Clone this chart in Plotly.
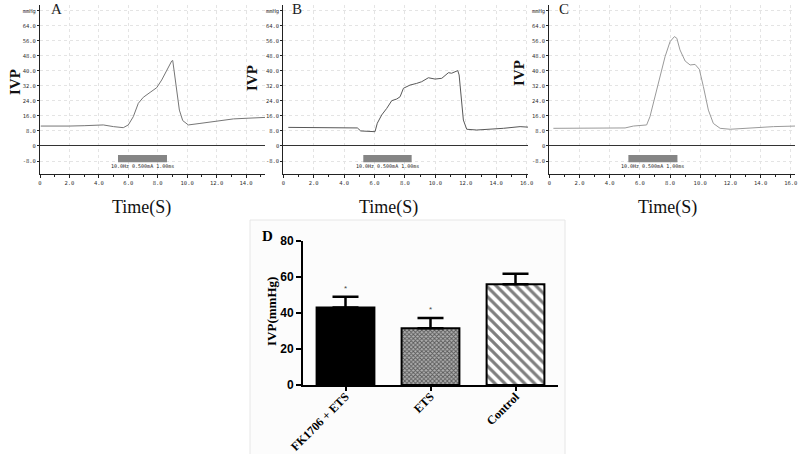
import plotly.graph_objects as go

# ---------- data: recorded pressure traces (time s, pressure mmHg) ----------
tA = [0.05, 1.0, 2.0, 3.0, 4.3, 5.0, 5.66, 6.0, 6.34, 6.68, 7.02, 7.48, 7.93, 8.27, 8.61, 8.95, 9.02,
      9.24, 9.47, 9.7, 10.08, 10.87, 12.0, 13.14, 14.2, 15.29]
vA = [10.6, 10.5, 10.6, 10.8, 11.2, 10.3, 9.75, 11.2, 15.6, 22.7, 25.9, 28.5, 31.0, 35.1, 40.4, 45.2, 45.5,
      33.3, 19.1, 13.5, 11.2, 12.0, 13.3, 14.4, 14.8, 15.2]

tB = [0.33, 2.0, 3.5, 4.87, 5.09, 6.03, 6.18, 6.47, 6.8, 7.13, 7.46, 7.68, 7.9, 8.33, 8.77, 9.1, 9.54,
      9.98, 10.42, 10.86, 11.07, 11.29, 11.47, 11.56, 11.69, 11.84, 12.06, 12.72, 14.47, 15.57, 16.34]
vB = [9.9, 9.8, 9.75, 9.6, 8.0, 7.6, 12.1, 16.5, 20.0, 24.1, 25.0, 26.2, 30.7, 32.4, 33.3, 34.2, 36.3,
      35.6, 36.0, 39.0, 38.7, 39.5, 40.1, 37.8, 26.2, 13.8, 8.9, 8.5, 9.4, 10.3, 9.9]

tC = [0.27, 2.7, 5.02, 5.57, 6.45, 6.67, 7.0, 7.33, 7.67, 8.0, 8.29, 8.45, 8.66, 9.0, 9.33, 9.66, 9.94,
      10.21, 10.54, 10.87, 11.32, 11.98, 13.75, 14.85, 16.29]
vC = [9.4, 9.6, 9.6, 10.6, 11.2, 15.6, 26.2, 37.8, 47.5, 55.5, 58.2, 57.3, 51.1, 45.2, 43.1, 43.4, 40.8,
      31.6, 19.1, 12.0, 9.4, 8.9, 9.8, 10.3, 10.6]

# stimulation window (s) for A, B, C
stim_start = [5.3, 5.26, 5.24]
stim_end = [8.63, 8.44, 8.49]
stim_label = "10.0Hz 0.500mA 1.00ms"

# trace-panel tick labels
y_tickvals = [-8, 0, 8, 16, 24, 32, 40, 48, 56, 64, 72]
y_ticktext = ["-8.0", "0", "8.0", "16.0", "24.0", "32.0", "40.0", "48.0", "56.0", "64.0", "mmHg"]
xA_tickvals = [0, 2, 4, 6, 8, 10, 12, 14]
xA_ticktext = ["0", "2.0", "4.0", "6.0", "8.0", "10.0", "12.0", "14.0"]
xBC_tickvals = [0, 2, 4, 6, 8, 10, 12, 14, 16]
xBC_ticktext = ["0", "2.0", "4.0", "6.0", "8.0", "10.0", "12.0", "14.0", "16.0"]

# ---------- data: bar chart D ----------
groups = ["FK1706 + ETS", "ETS", "Control"]
ivp_mean = [43.0, 31.5, 56.0]
ivp_sem = [6.0, 5.7, 5.8]
significant = ["*", "*", ""]

fig = go.Figure()

trace_colors = ["#767676", "#585858", "#9a9a9a"]
series = [(tA, vA), (tB, vB), (tC, vC)]
suffix = ["", "2", "3"]
for i, (t, v) in enumerate(series):
    fig.add_trace(go.Scatter(x=t, y=v, mode="lines",
                             line=dict(color=trace_colors[i], width=1),
                             xaxis="x" + suffix[i], yaxis="y" + suffix[i],
                             hoverinfo="skip"))

bar_styles = [
    dict(color="black"),
    dict(color="#9a9a9a", pattern=dict(shape="x", fgcolor="black", bgcolor="#b0b0b0",
                                       size=3, solidity=0.5)),
    dict(color="white", pattern=dict(shape="\\", fgcolor="black", bgcolor="white",
                                     size=7, solidity=0.45)),
]
for i, g in enumerate(groups):
    fig.add_trace(go.Bar(
        x=[g], y=[ivp_mean[i]], width=0.68,
        xaxis="x4", yaxis="y4",
        marker=dict(line=dict(color="black", width=2), **bar_styles[i]),
        error_y=dict(type="data", symmetric=False, array=[ivp_sem[i]], arrayminus=[0],
                     color="black", thickness=2.5, width=13),
    ))

tick_font_small = dict(family="DejaVu Sans Mono", size=5.5, color="#333333")
grid_kw = dict(showgrid=True, gridcolor="#e4e4e4", griddash="dot", gridwidth=1)

x_domains = [[40 / 800, 265 / 800], [283.3 / 800, 528 / 800], [549.3 / 800, 795 / 800]]
x_ranges = [[0, 15.29], [0, 16.09], [0, 16.28]]
y_dom = [(454 - 174) / 454, (454 - 5) / 454]

layout = dict(
    width=800, height=454,
    margin=dict(l=0, r=0, t=0, b=0, autoexpand=False),
    paper_bgcolor="white", plot_bgcolor="white",
    showlegend=False, barmode="overlay",
)

for i in range(3):
    xa = "xaxis" + suffix[i]
    ya = "yaxis" + suffix[i]
    layout[xa] = dict(domain=x_domains[i], range=x_ranges[i], anchor="y" + suffix[i],
                      automargin=False,
                      showline=True, linecolor="#222222", linewidth=1,
                      ticks="outside", ticklen=3, tickcolor="#222222",
                      tickvals=xA_tickvals if i == 0 else xBC_tickvals,
                      ticktext=xA_ticktext if i == 0 else xBC_ticktext,
                      tickfont=tick_font_small, zeroline=False,
                      minor=dict(ticks="outside", ticklen=2, dtick=1, tickcolor="#222222",
                                 showgrid=False),
                      **grid_kw)
    layout[ya] = dict(domain=y_dom, range=[-14.9, 75], anchor="x" + suffix[i],
                      automargin=False,
                      showline=True, linecolor="#222222", linewidth=1,
                      ticks="outside", ticklen=2, tickcolor="#222222",
                      tickvals=y_tickvals, ticktext=y_ticktext,
                      tickfont=tick_font_small,
                      zeroline=True, zerolinecolor="#333333", zerolinewidth=1,
                      **grid_kw)

layout["xaxis4"] = dict(domain=[303 / 800, 558 / 800], anchor="y4", type="category",
                        automargin=False,
                        range=[-0.5, 2.5], showline=True, linecolor="black", linewidth=2,
                        ticks="outside", ticklen=4, tickwidth=2, tickcolor="black",
                        tickangle=-45, ticklabelstandoff=-6,
                        showgrid=False, zeroline=False,
                        tickfont=dict(family="Liberation Serif", size=12, color="black",
                                      weight="bold"))
layout["yaxis4"] = dict(domain=[(454 - 385) / 454, (454 - 241) / 454], anchor="x4",
                        automargin=False,
                        range=[0, 80], tickvals=[0, 20, 40, 60, 80],
                        showline=True, linecolor="black", linewidth=2,
                        ticks="outside", ticklen=5, tickwidth=2, tickcolor="black",
                        showgrid=False, zeroline=False,
                        tickfont=dict(family="Liberation Sans", size=12, color="black",
                                      weight="bold"))

shapes = [dict(type="rect", xref="paper", yref="paper",
               x0=250 / 800, x1=565 / 800, y0=-0.02, y1=(454 - 220) / 454,
               fillcolor="#fcfcfc", line=dict(color="#e6e6e6", width=1), layer="below")]
annotations = []
for i in range(3):
    shapes.append(dict(type="rect", xref="x" + suffix[i], yref="y" + suffix[i],
                       x0=stim_start[i], x1=stim_end[i], y0=-8.6, y1=-4.8,
                       fillcolor="#858585", line=dict(width=0)))
    annotations.append(dict(xref="x" + suffix[i], yref="y" + suffix[i],
                            x=(stim_start[i] + stim_end[i]) / 2, y=-10.7,
                            xanchor="center", yanchor="middle",
                            text=stim_label, showarrow=False,
                            font=dict(family="DejaVu Sans Mono", size=5, color="#222222")))


def ann(text, px, py, font, angle=0):
    annotations.append(dict(xref="paper", yref="paper", x=px / 800, y=1 - py / 454,
                            xanchor="center", yanchor="middle", textangle=angle,
                            text=text, showarrow=False, font=font))


for letter, px, py in [("A", 56, 9), ("B", 297, 9), ("C", 564, 9)]:
    ann(letter, px, py, dict(family="Liberation Serif", size=15, color="#222222"))
ann("D", 267, 236, dict(family="Liberation Serif", size=15, color="black", weight="bold"))
for px, py in [(15, 82), (252, 78), (519, 73)]:
    ann("IVP", px, py, dict(family="Liberation Serif", size=15, color="#111111",
                            weight="bold"), -90)
for px in [141, 388, 667]:
    ann("Time(S)", px, 207, dict(family="Liberation Serif", size=18, color="#111111"))
ann("IVP(mmHg)", 271, 312, dict(family="Liberation Serif", size=13, color="black",
                                weight="bold"), -90)

# significance marks
for g, m, s, mark in zip(groups, ivp_mean, ivp_sem, significant):
    if mark:
        annotations.append(dict(xref="x4", yref="y4", x=g, y=m + s + 4.5, text=mark,
                                xanchor="center", yanchor="middle", showarrow=False,
                                font=dict(family="Liberation Sans", size=8, color="#444444")))

layout["shapes"] = shapes
layout["annotations"] = annotations
fig.update_layout(**layout)

fig.write_html("out.html", config={"displayModeBar": False},
               post_script="document.body.style.margin='0';document.body.style.padding='0';")
